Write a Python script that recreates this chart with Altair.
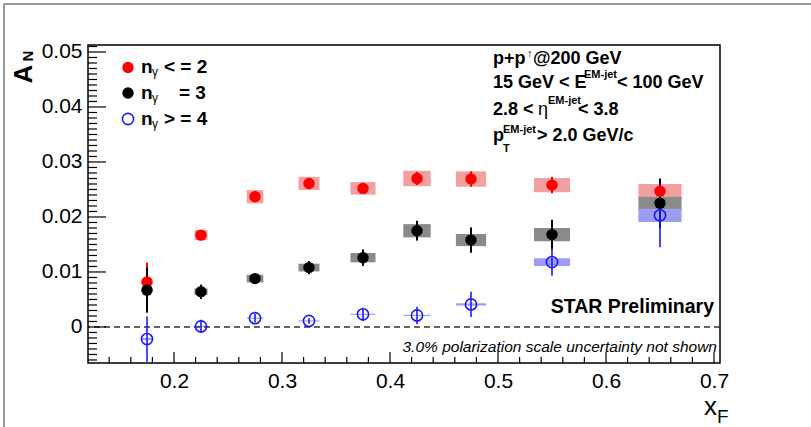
import altair as alt
import pandas as pd
import numpy as np

# ---------------- data ----------------
xf = [0.175, 0.225, 0.275, 0.325, 0.375, 0.425, 0.475, 0.55, 0.65]
box_dx = [0.005, 0.006, 0.0077, 0.0097, 0.0116, 0.0127, 0.014, 0.0167, 0.02]

red_an = [0.0082, 0.0167, 0.0237, 0.0261, 0.0252, 0.0270, 0.0269, 0.0258, 0.0247]
red_stat = [0.0035, 0.0009, 0.0010, 0.0010, 0.0010, 0.0012, 0.0014, 0.0015, 0.0021]
red_sys = [0.0003, 0.0009, 0.0012, 0.0012, 0.00115, 0.0014, 0.0014, 0.0013, 0.0013]

black_an = [0.0067, 0.0064, 0.0088, 0.0108, 0.0126, 0.0175, 0.0158, 0.0168, 0.0225]
black_stat = [0.0041, 0.0013, 0.0009, 0.0012, 0.0015, 0.0018, 0.0023, 0.0027, 0.0045]
black_sys = [0.0003, 0.0006, 0.0007, 0.0007, 0.00085, 0.0012, 0.0011, 0.0012, 0.0012]

blue_an = [-0.0022, 0.0001, 0.0016, 0.0011, 0.0023, 0.0021, 0.0041, 0.0118, 0.0203]
blue_stat = [0.0041, 0.0012, 0.0008, 0.0005, 0.0012, 0.0016, 0.0023, 0.0025, 0.0058]
blue_sys = [0.0002, 0.0001, 0.0001, 0.0001, 0.0001, 0.0001, 0.0002, 0.0007, 0.0012]

series_names = ["le2", "eq3", "ge4"]
y_major = [0, 0.01, 0.02, 0.03, 0.04, 0.05]
x_major = [0.2, 0.3, 0.4, 0.5, 0.6, 0.7]

# ---------------- build table ----------------
rows = []
for name, an, st, sy in [("le2", red_an, red_stat, red_sys),
                         ("eq3", black_an, black_stat, black_sys),
                         ("ge4", blue_an, blue_stat, blue_sys)]:
    for x, dx, a, s, b in zip(xf, box_dx, an, st, sy):
        rows.append(dict(series=name, x=x, x0=x - dx, x1=x + dx, an=a,
                         lo=a - s, hi=a + s, blo=a - b, bhi=a + b))
df = pd.DataFrame(rows)

L, T, W, H = 88, 45, 632, 318
xs = alt.Scale(domain=[0.12037, 0.70556], nice=False, zero=False)
ys = alt.Scale(domain=[-0.00655, 0.05127], nice=False, zero=False)

xax = alt.Axis(values=x_major, format=".1f", ticks=False, domain=False, grid=False,
               labelFont="Liberation Sans", labelFontSize=21, labelColor="black",
               labelPadding=7, title=None)
yax = alt.Axis(values=y_major, ticks=False, domain=False, grid=False,
               labelFont="Liberation Sans", labelFontSize=21, labelColor="black",
               labelPadding=6, title=None,
               labelExpr="datum.value == 0 ? '0' : format(datum.value, '.2f')")


def X(f):
    return alt.X(f, type="quantitative", scale=xs, axis=xax)


def Y(f):
    return alt.Y(f, type="quantitative", scale=ys, axis=yax)


box_col = alt.Color("series:N", scale=alt.Scale(domain=series_names,
                    range=["#f5a0a0", "#8a8a8a", "#9c9cf2"]), legend=None)
pt_col = alt.Color("series:N", scale=alt.Scale(domain=series_names,
                   range=["#ff0000", "#000000", "#1a1aff"]), legend=None)

boxes = alt.Chart(df).mark_rect().encode(
    x=X("x0"), x2="x1", y=Y("blo"), y2="bhi", fill=box_col)

err_rb = alt.Chart(df[df.series != "ge4"]).mark_rule(strokeWidth=2).encode(
    x=X("x"), y=Y("lo"), y2="hi", color=pt_col)
err_b = alt.Chart(df[df.series == "ge4"]).mark_rule(strokeWidth=1.6).encode(
    x=X("x"), y=Y("lo"), y2="hi", color=pt_col)

pts_filled = alt.Chart(df[df.series != "ge4"]).mark_point(
    filled=True, size=130, opacity=1, shape="circle").encode(
    x=X("x"), y=Y("an"), color=pt_col)
pts_open = alt.Chart(df[df.series == "ge4"]).mark_point(
    filled=False, size=125, strokeWidth=1.6, opacity=1, shape="circle").encode(
    x=X("x"), y=Y("an"), color=pt_col)

zero_line = alt.Chart(pd.DataFrame({"v": [0.0]})).mark_rule(
    color="#333333", strokeDash=[6, 4], strokeWidth=1.3).encode(y=Y("v"))

# inward ticks
y_minor = [round(v, 3) for v in np.arange(-0.006, 0.0515, 0.001)
           if all(abs(v - m) > 1e-6 for m in y_major)]
x_minor = [round(v, 2) for v in np.arange(0.14, 0.705, 0.02)
           if all(abs(v - m) > 1e-6 for m in x_major)]

yt_major = alt.Chart(pd.DataFrame({"v": y_major})).mark_rule(
    color="black", strokeWidth=1.2).encode(y=Y("v"), x=alt.value(0), x2=alt.value(18))
yt_minor = alt.Chart(pd.DataFrame({"v": y_minor})).mark_rule(
    color="black", strokeWidth=1.2).encode(y=Y("v"), x=alt.value(0), x2=alt.value(9))
xt_major = alt.Chart(pd.DataFrame({"v": x_major})).mark_rule(
    color="black", strokeWidth=1.2).encode(x=X("v"), y=alt.value(H), y2=alt.value(H - 11))
xt_minor = alt.Chart(pd.DataFrame({"v": x_minor})).mark_rule(
    color="black", strokeWidth=1.2).encode(x=X("v"), y=alt.value(H), y2=alt.value(H - 6))

one = pd.DataFrame({"a": [0]})


def txt(s, x, y, size, weight="normal", style="normal", align="left", angle=0,
        baseline="alphabetic", color="black", font="Liberation Sans"):
    return alt.Chart(one).mark_text(
        text=s, fontSize=size, fontWeight=weight, fontStyle=style, align=align,
        baseline=baseline, angle=angle, color=color, font=font).encode(
        x=alt.value(x - L), y=alt.value(y - T))


def marker(x, y, color, filled):
    if filled:
        m = alt.Chart(one).mark_point(filled=True, size=130, opacity=1, color=color,
                                      shape="circle")
    else:
        m = alt.Chart(one).mark_point(filled=False, size=125, strokeWidth=1.6,
                                      opacity=1, color=color, shape="circle")
    return m.encode(x=alt.value(x - L), y=alt.value(y - T))


texts = [
    # y title A_N
    txt("A", 32, 74, 26, weight="bold", align="center", angle=270),
    txt("N", 33, 56, 15, weight="bold", align="center", angle=270),
    # x title x_F
    txt("x", 704, 415, 26),
    txt("F", 717, 423, 19),
    # legend
    txt("n", 141, 73, 19, weight="bold"),
    txt("γ", 152, 76, 12),
    txt("< = 2", 164, 73, 19, weight="bold"),
    txt("n", 141, 99, 19, weight="bold"),
    txt("γ", 152, 102, 12),
    txt("= 3", 179, 99, 19, weight="bold"),
    txt("n", 141, 125, 19, weight="bold"),
    txt("γ", 152, 128, 12),
    txt("> = 4", 164, 125, 19, weight="bold"),
    # annotation block
    txt("p+p", 493, 64, 18, weight="bold"),
    txt("↑", 527, 57, 11),
    txt("@200 GeV", 533, 64, 18, weight="bold"),
    txt("15 GeV < E", 493, 88, 18, weight="bold"),
    txt("EM-jet", 584, 78, 11, weight="bold"),
    txt("< 100 GeV", 617, 88, 18, weight="bold"),
    txt("2.8 <", 493, 115, 18, weight="bold"),
    txt("η", 538, 115, 18),
    txt("EM-jet", 548, 104, 11, weight="bold"),
    txt("< 3.8", 578, 115, 18, weight="bold"),
    txt("p", 493, 141, 18, weight="bold"),
    txt("T", 503, 152, 11, weight="bold"),
    txt("EM-jet", 503, 133, 11, weight="bold"),
    txt("> 2.0 GeV/c", 537, 141, 18, weight="bold"),
    # STAR preliminary
    txt("STAR Preliminary", 714, 313, 19.5, weight="bold", align="right"),
    txt("3.0% polarization scale uncertainty not shown", 717, 352, 15.5,
        style="italic", align="right"),
]

legend_marks = [
    marker(128, 67.5, "#ff0000", True),
    marker(128, 93, "#000000", True),
    marker(128, 119, "#1a1aff", False),
]

border = [
    alt.Chart(one).mark_rule(color="#777777", strokeWidth=1.5).encode(
        x=alt.value(4 - L), y=alt.value(4 - T), y2=alt.value(440 - T)),
    alt.Chart(one).mark_rule(color="#777777", strokeWidth=1.5).encode(
        x=alt.value(4 - L), x2=alt.value(820 - L), y=alt.value(4 - T)),
]

chart = alt.layer(
    boxes, zero_line, err_rb, err_b, pts_filled, pts_open,
    yt_major, yt_minor, xt_major, xt_minor,
    *legend_marks, *texts, *border
).properties(
    width=W, height=H,
    padding={"left": L, "top": T, "right": 811 - L - W, "bottom": 427 - T - H},
    autosize="none", background="white",
).configure_view(stroke="black", strokeWidth=1.5)

chart.save("out.html", embed_options={"renderer": "svg", "actions": False})
